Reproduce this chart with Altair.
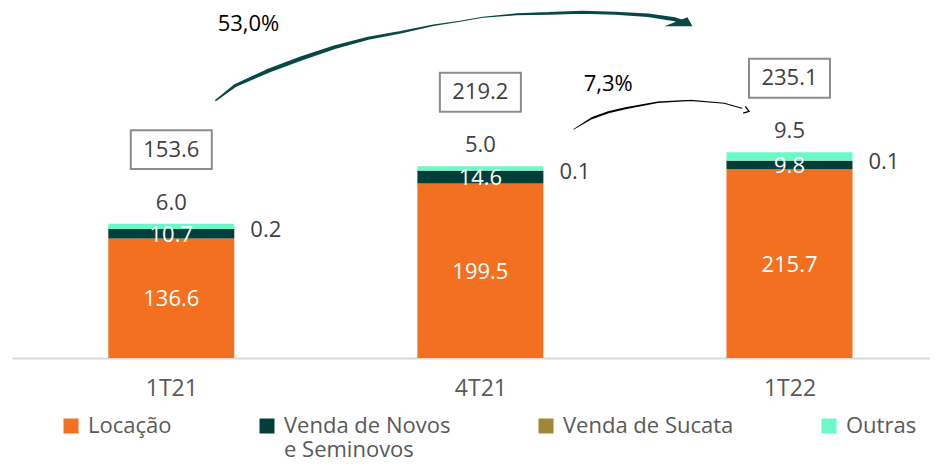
import altair as alt
import pandas as pd

categorias = ["1T21", "4T21", "1T22"]
series = ["Locação", "Venda de Novos e Seminovos", "Venda de Sucata", "Outras"]
locacao = [136.6, 199.5, 215.7]
venda_novos = [10.7, 14.6, 9.8]
venda_sucata = [0.2, 0.1, 0.1]
outras = [6.0, 5.0, 9.5]
totais = [153.6, 219.2, 235.1]
cores = ["#F37021", "#023F3B", "#9E8837", "#6AF9CA"]

# annotation arrows (x in category-index units, y in value units)
variacoes = ["53,0%", "7,3%"]
var_x = [0.150, 1.334]
var_y = [381.4, 312.8]
seta1_x = [0.144, 0.208, 0.317, 0.422, 0.528, 0.637, 0.742, 0.848, 0.934, 1.008,
           1.117, 1.222, 1.328, 1.437, 1.542, 1.629, 1.658]
seta1_y = [294.5, 311.7, 328.8, 342.5, 355.1, 365.4, 372.2, 380.2, 384.8, 389.4,
           392.8, 393.9, 395.1, 393.9, 391.7, 387.1, 383.7]
seta1_w = [1.5, 3.0, 4.0, 4.2, 3.8, 3.2, 2.5, 1.6, 1.0, 1.0, 2.0, 2.8, 3.0, 3.0, 3.4, 4.0, 4.0]
seta1_ponta = [1.686, 379.1]
seta2_x = [1.302, 1.360, 1.414, 1.469, 1.574, 1.680, 1.789, 1.846]
seta2_y = [261.4, 274.0, 280.8, 285.4, 292.2, 294.5, 291.1, 285.4]
seta2_w = [0.8, 2.0, 2.2, 2.0, 1.6, 1.2, 1.0, 1.0]
seta2_ponta = [1.869, 281.9]

FONT = "Open Sans"
LABEL = "#404040"
FS = 23

rows = []
for i, c in enumerate(categorias):
    for k, (s, vals) in enumerate(zip(series, [locacao, venda_novos, venda_sucata, outras])):
        rows.append(dict(cat=c, idx=i, serie=s, ordem=k, valor=vals[i]))
df = pd.DataFrame(rows)
df_tot = pd.DataFrame(dict(idx=list(range(len(categorias))), total=totais))

xscale = alt.Scale(domain=[-0.4992, 2.4384], nice=False, zero=False)
yscale = alt.Scale(domain=[0, 400], nice=False, zero=True)
label_expr = "[" + ",".join("'%s'" % c for c in categorias) + "][datum.value]"
X = alt.X("idx:Q", scale=xscale, title=None,
          axis=alt.Axis(values=[0, 1, 2], labelExpr=label_expr, ticks=False, grid=False,
                        domainColor="#D9D9D9", domainWidth=2, labelFontSize=FS,
                        labelColor="#595959", labelPadding=19, labelFont=FONT))

legend_expr = ("datum.label == 'Venda de Novos e Seminovos' ? ['Venda de Novos', 'e Seminovos'] "
               ": [datum.label, '']")

base = alt.Chart(df).transform_stack(
    stack="valor", groupby=["idx"], sort=[alt.SortField("ordem", order="ascending")], as_=["y0", "y1"]
).transform_calculate(mid="(datum.y0 + datum.y1) / 2")

bars = base.mark_bar(size=126).encode(
    x=X,
    y=alt.Y("y0:Q", scale=yscale, axis=None),
    y2="y1:Q",
    color=alt.Color("serie:N", scale=alt.Scale(domain=series, range=cores),
                    legend=alt.Legend(title=None, orient="none", legendX=48, legendY=407,
                                      direction="horizontal", columnPadding=84,
                                      symbolType="square", symbolSize=225, symbolStrokeWidth=0,
                                      labelFontSize=FS - 1, labelColor="#595959", labelFont=FONT,
                                      labelLimit=400, labelOffset=6, padding=0,
                                      labelExpr=legend_expr)),
)

white_labels = base.transform_filter("datum.ordem <= 1").mark_text(
    color="white", fontSize=FS - 1, font=FONT, baseline="middle", dy=1).encode(
    x=X, y=alt.Y("mid:Q", scale=yscale), text=alt.Text("valor:Q", format=".1f"))

sucata_labels = base.transform_filter("datum.ordem == 2").mark_text(
    color=LABEL, fontSize=FS - 1, font=FONT, align="left", dx=79, dy=1, baseline="middle").encode(
    x=X, y=alt.Y("mid:Q", scale=yscale), text=alt.Text("valor:Q", format=".1f"))

outras_labels = base.transform_filter("datum.ordem == 3").mark_text(
    color=LABEL, fontSize=FS - 1, font=FONT, dy=-21, baseline="middle").encode(
    x=X, y=alt.Y("y1:Q", scale=yscale), text=alt.Text("valor:Q", format=".1f"))

tot = alt.Chart(df_tot)
boxes = tot.mark_point(shape="M-1,-0.48L1,-0.48L1,0.48L-1,0.48Z", size=6561, filled=False,
                       stroke="#8C8C8C", strokeWidth=2, opacity=1, yOffset=-74).encode(
    x=X, y=alt.Y("total:Q", scale=yscale))
tot_text = tot.mark_text(color=LABEL, fontSize=FS - 1, font=FONT, dy=-74, baseline="middle").encode(
    x=X, y=alt.Y("total:Q", scale=yscale), text=alt.Text("total:Q", format=".1f"))

df_s1 = pd.DataFrame(dict(x=seta1_x, y=seta1_y, w=seta1_w, o=list(range(len(seta1_x)))))
df_s2 = pd.DataFrame(dict(x=seta2_x, y=seta2_y, w=seta2_w, o=list(range(len(seta2_x)))))
seta1 = alt.Chart(df_s1).mark_trail(color="#064845").encode(
    x=alt.X("x:Q", scale=xscale), y=alt.Y("y:Q", scale=yscale),
    size=alt.Size("w:Q", scale=None, legend=None), order="o:Q")
seta2 = alt.Chart(df_s2).mark_trail(color="#000000").encode(
    x=alt.X("x:Q", scale=xscale), y=alt.Y("y:Q", scale=yscale),
    size=alt.Size("w:Q", scale=None, legend=None), order="o:Q")

df_h1 = pd.DataFrame(dict(x=[seta1_ponta[0]], y=[seta1_ponta[1]]))
df_h2 = pd.DataFrame(dict(x=[seta2_ponta[0]], y=[seta2_ponta[1]]))
head1 = alt.Chart(df_h1).mark_point(shape="M0,0L-2.8,0L-0.5,-0.9Z", filled=True, color="#064845",
                                    size=400, opacity=1).encode(
    x=alt.X("x:Q", scale=xscale), y=alt.Y("y:Q", scale=yscale))
head2 = alt.Chart(df_h2).mark_point(shape="M-1,-0.7L0,0L-1,0.7", filled=False, color="#000000",
                                    strokeWidth=1.3, size=100, angle=18, opacity=1).encode(
    x=alt.X("x:Q", scale=xscale), y=alt.Y("y:Q", scale=yscale))

df_var = pd.DataFrame(dict(x=var_x, y=var_y, t=variacoes))
var_text = alt.Chart(df_var).mark_text(color="#000000", fontSize=FS - 1, font=FONT, align="left",
                                       baseline="middle").encode(
    x=alt.X("x:Q", scale=xscale), y=alt.Y("y:Q", scale=yscale), text="t:N")

chart = alt.layer(bars, white_labels, sucata_labels, outras_labels, boxes, tot_text,
                  seta1, seta2, head1, head2, var_text).properties(
    width=918, height=350, autosize=alt.AutoSizeParams(type="none"),
    padding={"left": 4, "top": 0, "right": 0, "bottom": 102},
).configure(view=alt.ViewConfig(stroke=None), style={"guide-label": {"lineHeight": 24}})

chart.save("out.html", embed_options={"renderer": "svg", "actions": False})
